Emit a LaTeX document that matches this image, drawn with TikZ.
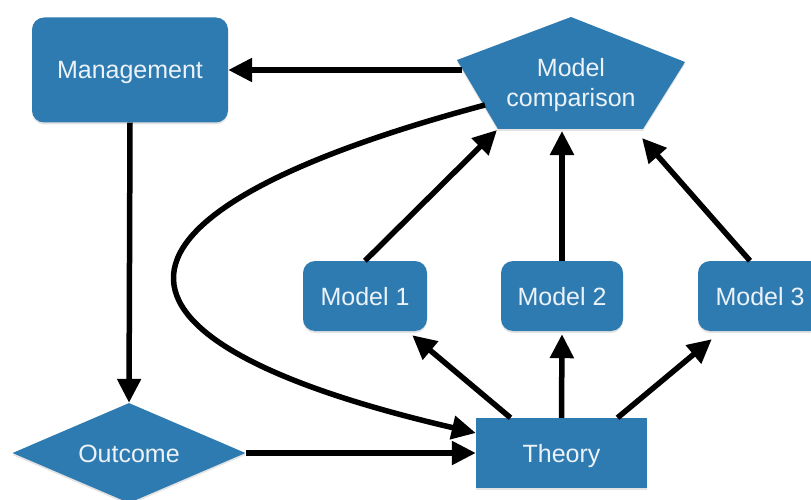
\documentclass[tikz,border=0pt]{standalone}
\usepackage{fontspec}
\setmainfont{Liberation Sans}
\usetikzlibrary{arrows.meta,shapes.geometric,shadows}
\definecolor{boxblue}{RGB}{46,123,177}
\definecolor{txt}{RGB}{236,242,248}
\begin{document}
\begin{tikzpicture}[x=1pt,y=-1pt,
  shade/.style={drop shadow={opacity=0.22,shadow xshift=0pt,shadow yshift=-2pt}},
  blk/.style={fill=boxblue,text=txt,inner sep=0pt,shade,
    font=\fontsize{25}{31}\selectfont,text height=18pt,text depth=0pt},
  rbox/.style={blk,rounded corners=12pt},
  arr/.style={line width=5.5pt,-{Triangle[length=24pt,width=23pt]}}]
\clip (0,0) rectangle (811,500);
\useasboundingbox (0,0) rectangle (811,500);
% nodes
\node[rbox,minimum width=196pt,minimum height=105pt] (mgmt) at (130,70) {Management};
\node[rbox,minimum width=124pt,minimum height=70pt] (m1) at (365,296) {Model 1};
\node[rbox,minimum width=122pt,minimum height=70pt] (m2) at (562,296) {Model 2};
\node[rbox,minimum width=124pt,minimum height=70pt] (m3) at (760,296) {Model 3};
\node[blk,minimum width=171pt,minimum height=70pt] (theory) at (561.5,453) {Theory};
\node[blk,diamond,aspect=2.33,minimum width=233pt,minimum height=100pt] (outcome) at (129,453) {Outcome};
% pentagon
\fill[boxblue,shade] (571,17) -- (685,62) -- (643,129) -- (498,129) -- (457,60) -- cycle;
\node[text=txt,align=center,font=\fontsize{25}{30}\selectfont] (mc) at (571,85) {Model\\comparison};
\coordinate (mcL) at (462,70);
\coordinate (mcC) at (485,105);
\coordinate (mc1) at (497,130);
\coordinate (mc2) at (562,131);
\coordinate (mc3) at (642,138);
% connectors
\draw[arr] (mcL) -- (mgmt.east |- mcL);
\draw[arr] (mgmt.south) -- (outcome.north);
\draw[arr] (outcome.east) -- (theory.west |- outcome.east);
\draw[arr] ([xshift=-51pt]theory.north) -- ([xshift=-15pt,yshift=-4pt]m1.south east);
\draw[arr] (theory.north) -- ([yshift=-3pt]m2.south);
\draw[arr] ([xshift=56pt]theory.north) -- ([xshift=14pt,yshift=-8pt]m3.south west);
\draw[arr] (m1.north) -- (mc1);
\draw[arr] (m2.north) -- (mc2);
\draw[arr] ([xshift=-10pt]m3.north) -- (mc3);
\draw[arr] (mcC) .. controls (75,215) and (75,340) .. ([yshift=20pt]theory.west);
\end{tikzpicture}
\end{document}
